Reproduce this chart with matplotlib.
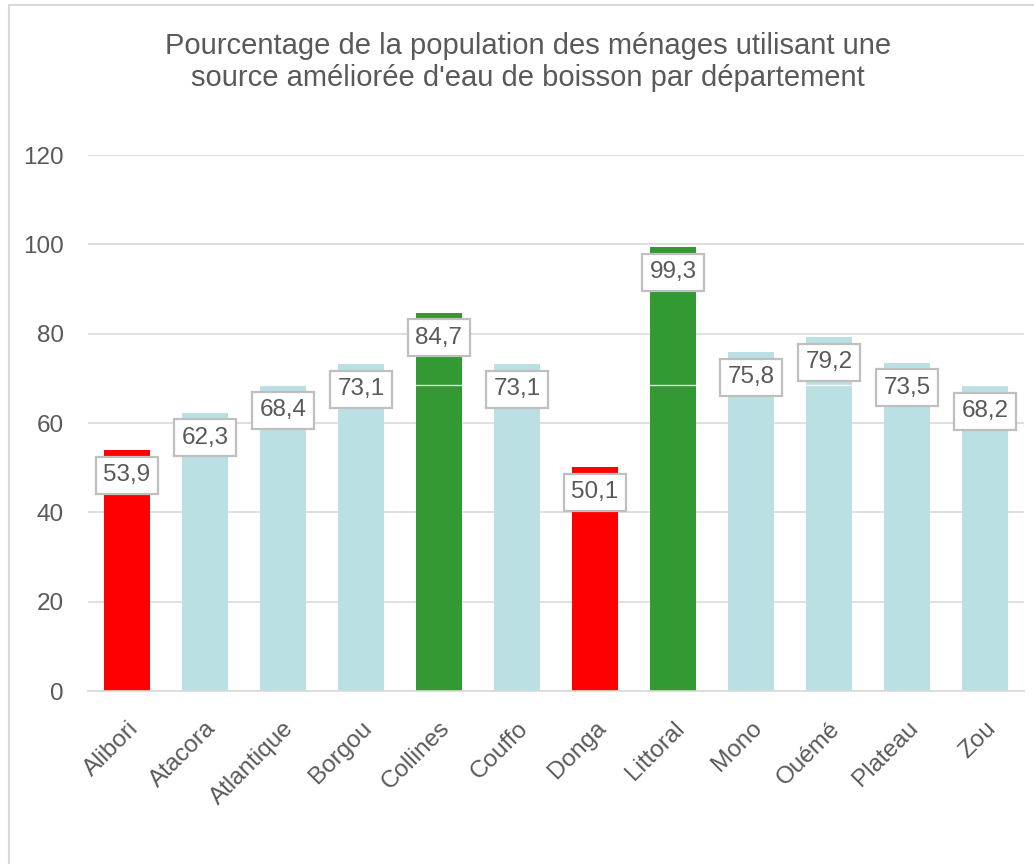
import matplotlib.pyplot as plt
from matplotlib.patches import Rectangle

plt.rcParams['font.family'] = ['Liberation Sans', 'DejaVu Sans']

departments = ['Alibori', 'Atacora', 'Atlantique', 'Borgou', 'Collines', 'Couffo',
               'Donga', 'Littoral', 'Mono', 'Ouémé', 'Plateau', 'Zou']
values = [53.9, 62.3, 68.4, 73.1, 84.7, 73.1, 50.1, 99.3, 75.8, 79.2, 73.5, 68.2]
groups = ['low', 'mid', 'mid', 'mid', 'high', 'mid', 'low', 'high', 'mid', 'mid', 'mid', 'mid']
ref_value = 68.5
yticks = [0, 20, 40, 60, 80, 100, 120]

COLORS = {'low': '#ff0000', 'mid': '#bbe0e3', 'high': '#339933'}
TEXT = '#595959'

fig = plt.figure(figsize=(10.34, 8.64), dpi=100)
fig.patches.append(Rectangle((9 / 1034, -0.01), 1.02, 1.0 - 5 / 864 + 0.01,
                             transform=fig.transFigure, fill=False,
                             edgecolor='#d9d9d9', linewidth=1.5))

ax = fig.add_axes([88 / 1034, 173 / 864, 936 / 1034, 536 / 864])

x = range(len(departments))
ax.bar(x, values, width=0.58, color=[COLORS[g] for g in groups], zorder=2)
ax.axhline(ref_value, color='white', linewidth=1, alpha=0.8, zorder=3)

for xi, v in zip(x, values):
    ax.annotate('{:.1f}'.format(v).replace('.', ','), (xi, v), xytext=(0, -18),
                textcoords='offset points', ha='center', va='center',
                fontsize=17.5, color=TEXT, zorder=4,
                bbox=dict(boxstyle='square,pad=0.3', facecolor='white',
                          edgecolor='#bfbfbf', linewidth=1.6))

ax.set_xlim(-0.5, len(departments) - 0.5)
ax.set_ylim(0, 120)
ax.set_yticks(yticks)
ax.set_yticklabels([str(t) for t in yticks], fontsize=17.5, color=TEXT)
ax.set_xticks(list(x))
ax.set_xticklabels(departments, rotation=45, ha='right', rotation_mode='anchor',
                   fontsize=17.5, color=TEXT)
ax.tick_params(axis='x', length=0, pad=19)
ax.tick_params(axis='y', length=0, pad=17.5)
ax.grid(axis='y', color='#d9d9d9', linewidth=1.2, zorder=0)
ax.set_axisbelow(True)
for s in ['top', 'right', 'left']:
    ax.spines[s].set_visible(False)
ax.spines['bottom'].set_color('#d9d9d9')
ax.spines['bottom'].set_linewidth(1.2)

fig.text(528 / 1034, 1 - 62 / 864,
         "Pourcentage de la population des ménages utilisant une\n"
         "source améliorée d'eau de boisson par département",
         ha='center', va='center', fontsize=21, color=TEXT, linespacing=1.18)

fig.savefig('out.png', dpi=100)
